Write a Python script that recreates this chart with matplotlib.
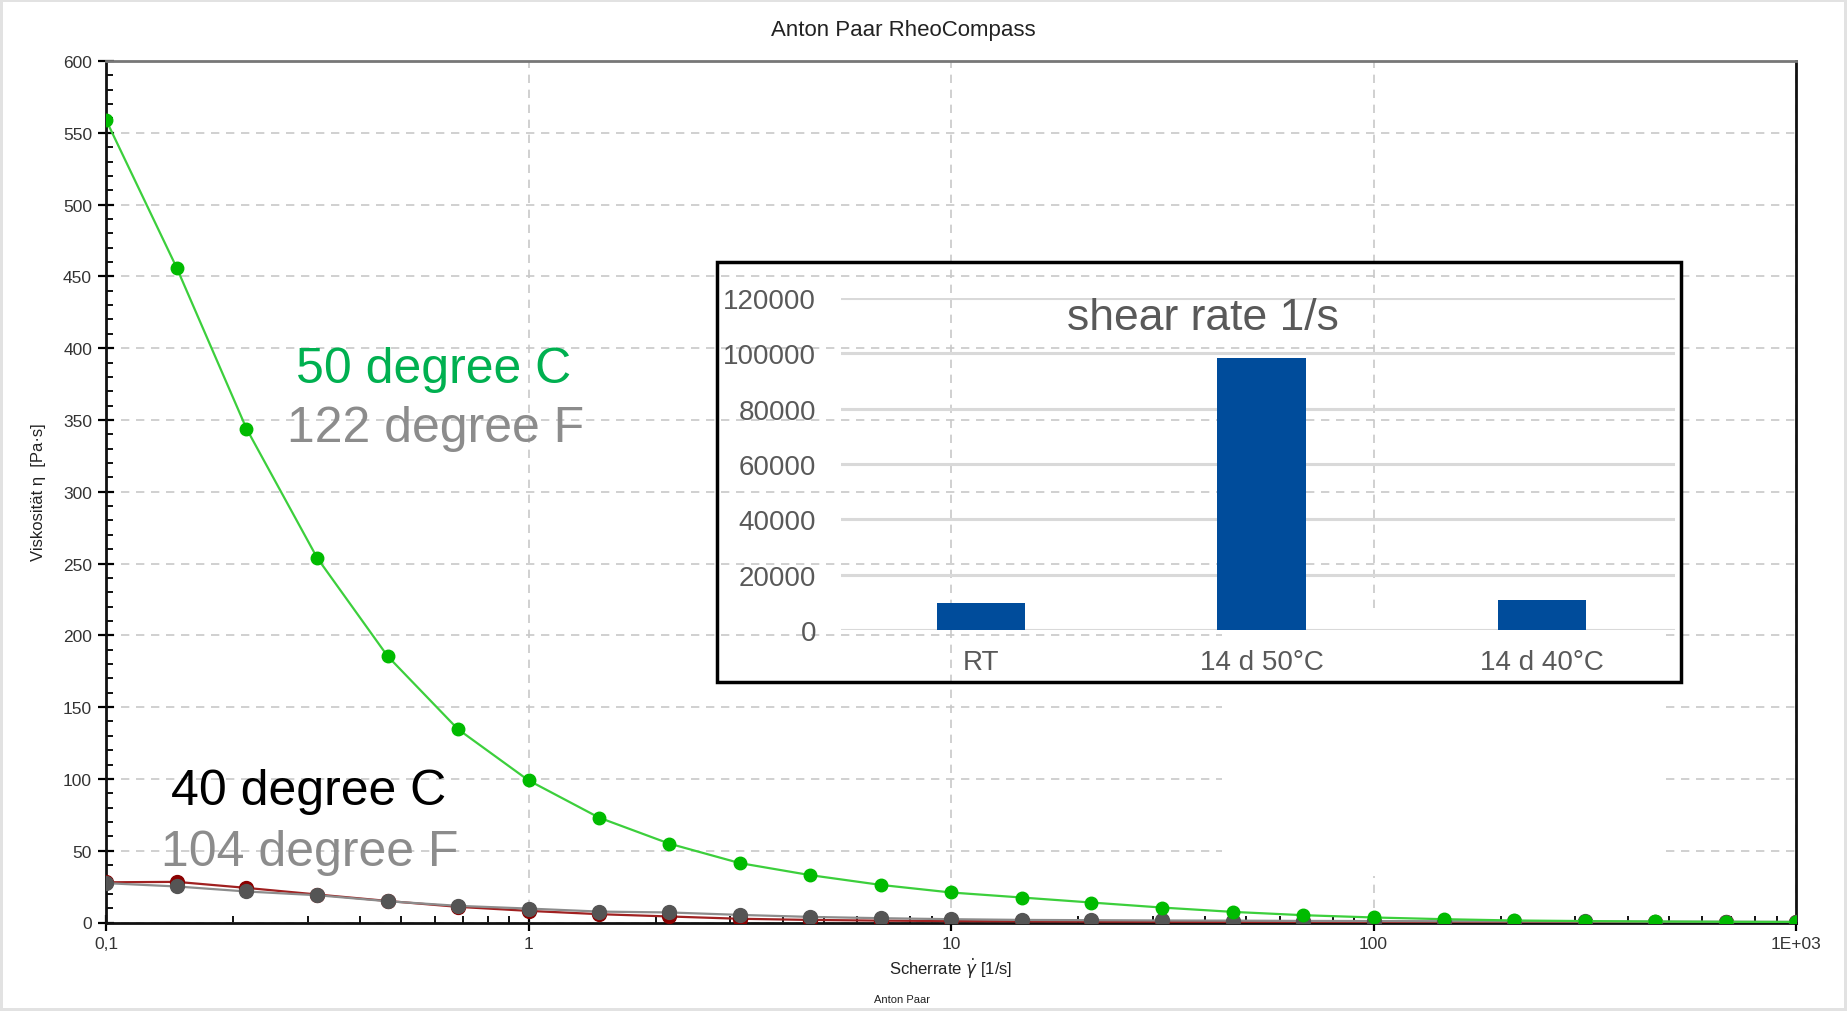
import numpy as np
import matplotlib
matplotlib.use("Agg")
import matplotlib.pyplot as plt
from matplotlib.patches import Rectangle

plt.rcParams['font.family'] = ['Liberation Sans', 'DejaVu Sans']

# --- Daten ---
shear_rate = [0.1, 0.147, 0.215, 0.316, 0.464, 0.681, 1.0, 1.47, 2.15, 3.16, 4.64, 6.81,
              10.0, 14.7, 21.5, 31.6, 46.4, 68.1, 100.0, 147.0, 215.0, 316.0, 464.0, 681.0, 1000.0]
eta_50c = [559, 456, 344, 254, 185.5, 134.6, 99, 73, 55, 41.4, 33, 26.2,
           20.9, 17.4, 13.9, 10.4, 7.4, 5.1, 3.5, 2.3, 1.4, 1.0, 0.7, 0.5, 0.4]
eta_40c_gray = [27.4, 25.1, 21.6, 19.0, 14.8, 11.6, 9.7, 7.6, 7.0, 5.3, 3.9, 3.0,
                2.3, 1.8, 1.6, 1.4, 1.3, 1.1, 1.0, 0.9, 0.8, 0.7, 0.6, 0.5, 0.4]
eta_40c_red = [28.0, 28.3, 24.1, 19.5, 15.0, 10.9, 8.1, 5.8, 4.2, 2.6, 1.8, 1.3,
               1.0, 0.8, 0.6, 0.5, 0.4, 0.35, 0.3, 0.25, 0.2, 0.2, 0.15, 0.1, 0.1]

x_ticks = [0.1, 1, 10, 100, 1000]
x_ticklabels = ['0,1', '1', '10', '100', '1E+03']
y_ticks = [0, 50, 100, 150, 200, 250, 300, 350, 400, 450, 500, 550, 600]

inset_labels = ['RT', '14 d 50°C', '14 d 40°C']
inset_values = [9700, 98400, 10900]
inset_yticks = [0, 20000, 40000, 60000, 80000, 100000, 120000]

W, H = 1847, 1012


def fx(px):
    return px / W


def fy(py):
    return 1 - py / H


fig = plt.figure(figsize=(W / 100, H / 100), dpi=100)
fig.patch.set_edgecolor('#e2e2e2')
fig.patch.set_linewidth(4)

# --- Hauptdiagramm ---
ax = fig.add_axes([fx(106), fy(923.5), fx(1796) - fx(106), fy(62) - fy(923.5)])
ax.set_xscale('log')
ax.set_xlim(0.1, 1000)
ax.set_ylim(0, 600)
ax.set_axisbelow(True)

ax.plot(shear_rate, eta_40c_red, color='#a02020', lw=1.6, marker='o', ms=10,
        mfc='#8b0000', mec='#8b0000', zorder=3)
ax.plot(shear_rate, eta_40c_gray, color='#8c8c8c', lw=1.6, marker='o', ms=10,
        mfc='#555555', mec='#555555', zorder=4)
ax.plot(shear_rate, eta_50c, color='#3ccf3c', lw=1.6, marker='o', ms=9,
        mfc='#00bb00', mec='#00bb00', zorder=5)

ax.set_xticks(x_ticks)
ax.set_xticklabels(x_ticklabels)
ax.set_yticks(y_ticks)
ax.yaxis.set_minor_locator(matplotlib.ticker.MultipleLocator(10))
ax.xaxis.set_minor_locator(matplotlib.ticker.LogLocator(base=10, subs=np.arange(2, 10)))
ax.xaxis.set_minor_formatter(matplotlib.ticker.NullFormatter())
ax.tick_params(axis='both', which='major', direction='inout', length=12, width=1.6,
               labelsize=12.5, labelcolor='#333333', pad=4)
ax.tick_params(axis='both', which='minor', direction='in', length=5, width=1.3)

ax.grid(True, which='major', axis='both', color='#c8c8c8', lw=1.2, ls=(0, (5, 4)))
for s in ['left', 'bottom', 'right']:
    ax.spines[s].set_linewidth(2)
    ax.spines[s].set_color('#111111')
ax.spines['top'].set_linewidth(2)
ax.spines['top'].set_color('#777777')

# weisse Flaeche unter dem eingefuegten Bild
ax.add_patch(Rectangle((fx(1222), fy(877)), fx(1665) - fx(1222), fy(609) - fy(877),
                       transform=fig.transFigure, facecolor='white', edgecolor='none', zorder=1))

# Beschriftungen
fig.text(fx(903), fy(36), 'Anton Paar RheoCompass', ha='center', va='baseline', fontsize=16, color='#222222')
fig.text(fx(951), fy(975), r'Scherrate $\dot{\gamma}$ [1/s]', ha='center', va='baseline', fontsize=12, color='#222222')
fig.text(fx(902), fy(1003), 'Anton Paar', ha='center', va='baseline', fontsize=8, color='#222222')
fig.text(fx(39), fy(492), 'Viskosität η  [Pa·s]', ha='center', va='center', rotation=90, fontsize=12, color='#222222')

fig.text(fx(296), fy(383), '50 degree C', fontsize=36, color='#00b050', va='baseline')
fig.text(fx(287), fy(442), '122 degree F', fontsize=36, color='#8c8c8c', va='baseline')
fig.text(fx(171), fy(805), '40 degree C', fontsize=36, color='black', va='baseline', zorder=6)
fig.text(fx(161), fy(866), '104 degree F', fontsize=36, color='#8c8c8c', va='baseline', zorder=6)

# --- Einsatzdiagramm ---
iax = fig.add_axes([fx(841), fy(631), fx(1675) - fx(841), fy(299) - fy(631)], facecolor='none')
iax.bar(range(len(inset_values)), inset_values, width=0.315, color='#004c9b', zorder=3)
iax.set_xlim(-0.5, 2.475)
iax.set_ylim(0, 120000)
iax.set_yticks(inset_yticks)
iax.set_xticks(range(len(inset_labels)))
iax.set_xticklabels(inset_labels)
iax.tick_params(axis='both', length=0, labelsize=20, labelcolor='#595959')
iax.tick_params(axis='x', pad=14)
iax.tick_params(axis='y', pad=18)
iax.grid(True, axis='y', color='#d9d9d9', lw=2.2)
iax.set_axisbelow(True)
for s in iax.spines.values():
    s.set_visible(False)
iax.text(0.79, 108900, 'shear rate 1/s', ha='center', va='baseline', fontsize=32, color='#595959')

fig.add_artist(Rectangle((fx(717), fy(683)), fx(1681) - fx(717), fy(263) - fy(683),
                         transform=fig.transFigure, fill=False, edgecolor='black', lw=2.5, zorder=10))

fig.savefig('out.png', dpi=100)
